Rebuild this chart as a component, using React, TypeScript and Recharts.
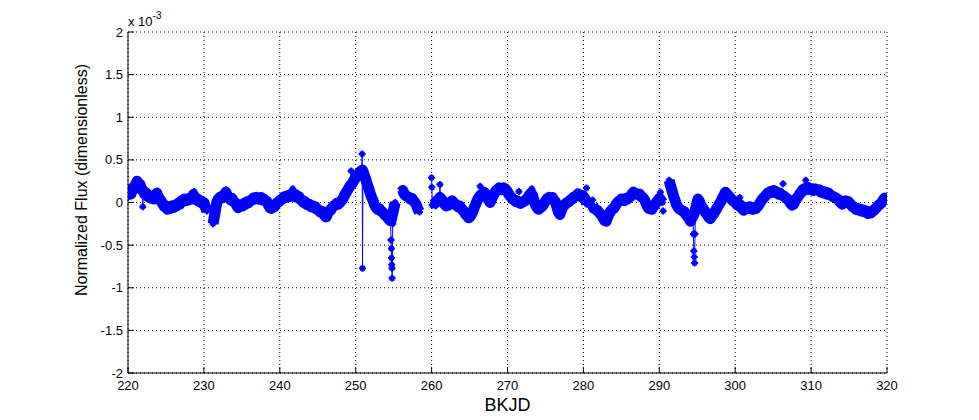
import React from "react";
import {
  CartesianGrid,
  ComposedChart,
  Label,
  Line,
  Scatter,
  XAxis,
  YAxis,
} from "recharts";

// flux values are in units of 1e-3 (the axis carries the "x 10^-3" note)
const xTicks = [220, 230, 240, 250, 260, 270, 280, 290, 300, 310, 320];
const yTicks = [-2, -1.5, -1, -0.5, 0, 0.5, 1, 1.5, 2];

// [BKJD, flux] pairs, one list per continuous stretch
const segment1: [number, number][] = [
  [220.0, 0.06], [220.2, 0.12], [220.4, 0.1], [220.6, 0.17], [220.8, 0.16], [221.0, 0.21],
  [221.2, 0.25], [221.4, 0.2], [221.6, 0.21], [221.8, 0.15], [222.0, 0.14], [222.2, 0.1],
  [222.4, 0.11], [222.6, 0.07], [222.8, 0.08], [223.0, 0.05], [223.2, 0.06], [223.4, 0.04],
  [223.6, 0.09], [223.8, 0.11], [224.0, 0.06], [224.2, 0.04], [224.4, 0.01], [224.6, -0.02],
  [224.8, -0.05], [225.0, -0.04], [225.2, -0.08], [225.4, -0.06], [225.6, -0.07], [225.8, -0.04],
  [226.0, -0.06], [226.2, -0.03], [226.4, -0.04], [226.6, -0.01], [226.8, -0.02], [227.0, 0.02],
  [227.2, 0.01], [227.4, 0.04], [227.6, 0.02], [227.8, 0.04], [228.0, 0.03], [228.2, 0.05],
  [228.4, 0.04], [228.6, 0.09], [228.8, 0.06], [229.0, 0.03], [229.2, 0.04], [229.4, 0.01],
  [229.6, 0.02], [229.8, -0.01], [230.0, 0.0], [230.2, -0.06], [230.4, -0.1],
];
const segment2: [number, number][] = [
  [231.2, -0.25], [231.35, -0.18], [231.5, -0.1], [231.7, 0.0], [231.9, 0.04], [232.1, 0.06],
  [232.3, 0.05], [232.5, 0.08], [232.7, 0.07], [232.9, 0.12], [233.1, 0.08], [233.3, 0.06],
  [233.5, 0.03], [233.7, 0.05], [233.9, 0.01], [234.1, 0.0], [234.3, -0.03], [234.5, -0.06],
  [234.7, -0.05], [234.9, -0.03], [235.1, -0.04], [235.3, -0.01], [235.5, -0.02], [235.7, 0.01],
  [235.9, 0.0], [236.1, 0.02], [236.3, 0.03], [236.5, 0.05], [236.7, 0.04], [236.9, 0.06],
  [237.1, 0.05], [237.3, 0.04], [237.5, 0.06], [237.7, 0.03], [237.9, 0.04], [238.1, 0.02],
  [238.3, 0.01], [238.5, -0.03], [238.7, -0.06], [238.9, -0.07], [239.1, -0.04], [239.3, -0.05],
  [239.5, -0.02], [239.7, 0.0], [239.9, 0.01], [240.1, 0.03], [240.3, 0.04], [240.5, 0.06],
  [240.7, 0.07], [240.9, 0.06], [241.1, 0.08], [241.3, 0.07], [241.5, 0.1], [241.7, 0.08],
  [241.9, 0.07], [242.1, 0.09], [242.3, 0.06], [242.5, 0.07], [242.7, 0.04], [242.9, 0.03],
  [243.1, 0.0], [243.3, 0.01], [243.5, -0.02], [243.7, -0.03], [243.9, -0.02], [244.1, -0.05],
  [244.3, -0.04], [244.5, -0.06], [244.7, -0.05], [244.9, -0.08], [245.1, -0.09], [245.3, -0.11],
  [245.5, -0.1], [245.7, -0.13], [245.9, -0.15], [246.1, -0.17], [246.3, -0.13], [246.5, -0.1],
  [246.7, -0.09], [246.9, -0.06], [247.1, -0.04], [247.3, -0.03], [247.5, -0.01], [247.7, -0.02],
  [247.9, 0.0], [248.1, 0.02], [248.3, 0.04], [248.5, 0.08], [248.7, 0.11], [248.9, 0.14],
  [249.1, 0.17], [249.3, 0.2], [249.5, 0.22], [249.7, 0.25], [249.9, 0.28], [250.1, 0.3],
  [250.3, 0.32], [250.5, 0.35], [250.7, 0.37], [250.9, 0.38], [251.1, 0.33], [251.3, 0.28],
  [251.5, 0.22], [251.7, 0.17], [251.9, 0.11], [252.1, 0.06], [252.3, 0.02], [252.5, -0.03],
  [252.7, -0.06], [252.9, -0.08], [253.1, -0.07], [253.3, -0.1], [253.5, -0.11], [253.7, -0.13],
  [253.9, -0.15], [254.1, -0.16], [254.3, -0.19], [254.5, -0.21], [254.7, -0.2], [254.9, -0.12],
  [255.1, -0.04], [255.2, 0.0],
];
const segment3: [number, number][] = [
  [256.0, 0.12], [256.2, 0.14], [256.4, 0.1], [256.6, 0.08], [256.8, 0.07], [257.0, 0.06],
  [257.2, 0.04], [257.4, 0.05], [257.6, 0.02], [257.8, 0.0], [258.0, -0.03], [258.2, -0.08],
  [258.4, -0.11],
];
const segment4: [number, number][] = [
  [260.1, -0.03], [260.3, -0.02], [260.5, 0.0], [260.7, 0.02], [260.9, 0.03], [261.1, 0.06],
  [261.3, 0.04], [261.5, 0.01], [261.7, -0.02], [261.9, -0.04], [262.1, -0.02], [262.3, -0.03],
  [262.5, 0.0], [262.7, 0.02], [262.9, 0.0], [263.1, -0.02], [263.3, -0.03], [263.5, -0.05],
  [263.7, -0.04], [263.9, -0.07], [264.1, -0.09], [264.3, -0.11], [264.5, -0.14], [264.7, -0.16],
  [264.9, -0.18], [265.1, -0.16], [265.3, -0.13], [265.5, -0.09], [265.7, -0.04], [265.9, 0.0],
  [266.1, 0.04], [266.3, 0.07], [266.5, 0.09], [266.7, 0.1], [266.9, 0.12], [267.1, 0.1],
  [267.3, 0.08], [267.5, 0.03], [267.7, 0.0], [267.9, 0.04], [268.1, 0.08], [268.3, 0.11],
  [268.5, 0.14], [268.7, 0.15], [268.9, 0.17], [269.1, 0.16], [269.3, 0.15], [269.5, 0.17],
  [269.7, 0.16], [269.9, 0.14], [270.1, 0.11], [270.3, 0.08], [270.5, 0.06], [270.7, 0.04],
  [270.9, 0.03], [271.1, 0.01], [271.3, 0.02], [271.5, 0.0], [271.7, -0.01], [271.9, 0.0],
  [272.1, 0.01], [272.3, 0.02], [272.5, 0.04], [272.7, 0.05], [272.9, 0.09], [273.1, 0.11],
  [273.3, 0.08], [273.5, 0.02], [273.7, -0.03], [273.9, -0.06], [274.1, -0.08], [274.3, -0.06],
  [274.5, -0.05], [274.7, -0.03], [274.9, 0.0], [275.1, 0.03], [275.3, 0.05], [275.5, 0.06],
  [275.7, 0.04], [275.9, 0.06], [276.1, 0.03], [276.3, 0.01], [276.5, -0.05], [276.7, -0.11],
  [276.9, -0.14], [277.1, -0.09], [277.3, -0.05], [277.5, -0.03], [277.7, -0.01], [277.9, 0.0],
  [278.1, 0.01], [278.3, 0.03], [278.5, 0.04], [278.7, 0.06], [278.9, 0.07], [279.1, 0.08],
  [279.3, 0.1], [279.5, 0.09], [279.7, 0.07], [279.9, 0.08], [280.1, 0.06], [280.3, 0.03],
  [280.45, -0.02],
];
const segment5: [number, number][] = [
  [281.2, -0.03], [281.4, -0.07], [281.6, -0.08], [281.8, -0.09], [282.0, -0.11], [282.2, -0.13],
  [282.4, -0.15], [282.6, -0.18], [282.8, -0.21], [283.0, -0.22], [283.2, -0.17], [283.4, -0.13],
  [283.6, -0.1], [283.8, -0.08], [284.0, -0.07], [284.2, -0.04], [284.4, -0.01], [284.6, 0.01],
  [284.8, 0.02], [285.0, 0.04], [285.2, 0.03], [285.4, 0.02], [285.6, 0.05], [285.8, 0.04],
  [286.0, 0.06], [286.2, 0.07], [286.4, 0.1], [286.6, 0.12], [286.8, 0.11], [287.0, 0.1],
  [287.2, 0.09], [287.4, 0.1], [287.6, 0.07], [287.8, 0.06], [288.0, 0.04], [288.2, 0.0],
  [288.4, -0.04], [288.6, -0.07], [288.8, -0.06], [289.0, -0.08], [289.2, -0.05], [289.4, -0.03],
  [289.6, 0.0], [289.8, 0.02], [290.0, 0.05], [290.2, 0.03], [290.4, 0.0],
];
const segment6: [number, number][] = [
  [291.3, 0.26], [291.5, 0.19], [291.7, 0.13], [291.9, 0.07], [292.1, 0.02], [292.3, -0.03],
  [292.5, -0.06], [292.7, -0.08], [292.9, -0.09], [293.1, -0.1], [293.3, -0.11], [293.5, -0.14],
  [293.7, -0.16], [293.9, -0.19], [294.1, -0.22], [294.3, -0.18], [294.5, -0.15], [294.7, -0.1],
  [294.9, -0.03], [295.1, 0.04], [295.3, 0.01], [295.5, -0.04], [295.7, -0.06], [295.9, -0.09],
  [296.1, -0.12], [296.3, -0.14], [296.5, -0.17], [296.7, -0.19], [296.9, -0.16], [297.1, -0.14],
  [297.3, -0.11], [297.5, -0.08], [297.7, -0.05], [297.9, -0.02], [298.1, 0.01], [298.3, 0.05],
  [298.5, 0.08], [298.7, 0.12], [298.9, 0.1], [299.1, 0.08], [299.3, 0.06], [299.5, 0.04],
  [299.7, 0.02], [299.9, 0.01], [300.1, -0.01], [300.3, -0.03], [300.5, -0.04], [300.7, -0.03],
  [300.9, -0.07], [301.1, -0.09], [301.3, -0.08], [301.5, -0.06], [301.7, -0.07], [301.9, -0.05],
  [302.1, -0.07], [302.3, -0.08], [302.5, -0.06], [302.7, -0.07], [302.9, -0.05], [303.1, -0.03],
  [303.3, 0.0], [303.5, 0.03], [303.7, 0.05], [303.9, 0.07], [304.1, 0.09], [304.3, 0.11],
  [304.5, 0.12], [304.7, 0.13], [304.9, 0.12], [305.1, 0.14], [305.3, 0.13], [305.5, 0.12],
  [305.7, 0.1], [305.9, 0.11], [306.1, 0.09], [306.3, 0.08], [306.5, 0.07], [306.7, 0.05],
  [306.9, 0.04], [307.1, 0.02], [307.3, -0.01], [307.5, -0.03], [307.7, -0.02], [307.9, 0.02],
  [308.1, 0.05], [308.3, 0.07], [308.5, 0.1], [308.7, 0.12], [308.9, 0.15], [309.1, 0.16],
  [309.3, 0.15], [309.5, 0.18], [309.7, 0.17], [309.9, 0.15], [310.1, 0.16], [310.3, 0.14],
  [310.5, 0.16], [310.7, 0.15], [310.9, 0.14], [311.1, 0.15], [311.3, 0.12], [311.5, 0.13],
  [311.7, 0.11], [311.9, 0.12], [312.1, 0.1], [312.3, 0.11], [312.5, 0.09], [312.7, 0.08],
  [312.9, 0.07], [313.1, 0.06], [313.3, 0.05], [313.5, 0.04], [313.7, 0.02], [313.9, 0.0],
  [314.1, -0.02], [314.3, 0.01], [314.5, 0.02], [314.7, 0.0], [314.9, 0.01], [315.1, -0.01],
  [315.3, -0.03], [315.5, -0.05], [315.7, -0.06], [315.9, -0.08], [316.1, -0.07], [316.3, -0.09],
  [316.5, -0.08], [316.7, -0.1], [316.9, -0.09], [317.1, -0.11], [317.3, -0.1], [317.5, -0.13],
  [317.7, -0.11], [317.9, -0.12], [318.1, -0.1], [318.3, -0.09], [318.5, -0.07], [318.7, -0.05],
  [318.9, -0.03], [319.1, -0.02], [319.3, 0.0], [319.5, 0.03], [319.7, 0.05], [319.9, 0.04],
  [320.0, 0.06],
];
const gapDays = [230.8, 255.6, 259.2, 280.8, 290.8];

// thin-line excursions (each group joined by a line, groups split by null)
const spikeGroups: [number, number][][] = [
  [[221.9, 0.14], [221.95, -0.05], [222.0, 0.12]],
  [[249.35, 0.22], [249.4, 0.37], [249.45, 0.22]],
  [[250.8, 0.38], [250.85, 0.57], [250.9, -0.77], [250.95, 0.35]],
  [[254.6, -0.22], [254.65, -0.44], [254.7, -0.54], [254.72, -0.65], [254.75, -0.73], [254.78, -0.77], [254.8, -0.89], [254.88, -0.25]],
  [[260.0, 0.29], [260.03, 0.18], [260.1, -0.03]],
  [[261.05, 0.04], [261.1, 0.21], [261.15, 0.05]],
  [[294.45, -0.2], [294.5, -0.37], [294.55, -0.57], [294.6, -0.64], [294.65, -0.71], [294.7, -0.37], [294.75, -0.15]],
];

// lone points sitting just off the band
const outlierDays = [228.7, 232.9, 241.7, 266.4, 271.5, 273.2, 280.4, 281.2, 290.15, 290.5, 300.6, 306.3, 309.3];
const outlierFlux = [0.13, 0.15, 0.16, 0.19, 0.13, 0.16, 0.17, 0.03, 0.12, -0.1, 0.06, 0.22, 0.26];

const BLUE = "#0000ff";
const FONT = "'Liberation Sans', Arial, Helvetica, sans-serif";

const bandData = [segment1, segment2, segment3, segment4, segment5, segment6].flatMap((seg, i) => {
  const pts = seg.map(([day, flux]) => ({day, flux}));
  return i < gapDays.length ? [...pts, {day: gapDays[i], flux: null}] : pts;
});

const spikeData = spikeGroups.flatMap((grp, i) => {
  const pts = grp.map(([day, flux]) => ({day, flux}));
  return i < spikeGroups.length - 1 ? [...pts, {day: (grp[grp.length - 1][0] + spikeGroups[i + 1][0][0]) / 2, flux: null}] : pts;
});

const outlierData = outlierDays.map((day, i) => ({day, flux: outlierFlux[i]}));

const PlusDot = (props: any) => {
  const {cx, cy} = props;
  if (cx == null || cy == null || props.value == null) return null;
  return (
    <path
      d={`M${cx - 3.5},${cy}H${cx + 3.5}M${cx},${cy - 3.5}V${cy + 3.5}M${cx - 1.5},${cy - 1.5}H${cx + 1.5}V${cy + 1.5}H${cx - 1.5}Z`}
      stroke={BLUE}
      strokeWidth={2}
      fill={BLUE}
    />
  );
};

const App = () => {
  return (
    <div style={{position: "absolute", left: 0, top: 0}}>
      <ComposedChart
        width={979}
        height={420}
        margin={{top: 32, right: 92, bottom: 0, left: 0}}
        style={{fontFamily: FONT}}
      >
        <CartesianGrid stroke="#000" strokeDasharray="1 3" strokeWidth={1} />
        <XAxis
          dataKey="day"
          type="number"
          domain={[220, 320]}
          ticks={xTicks}
          allowDataOverflow
          height={47}
          axisLine={{stroke: "#000"}}
          tickLine={{stroke: "#000"}}
          tickSize={-6}
          tickMargin={14}
          tick={{fill: "#000", fontSize: 13, fontFamily: FONT}}
        >
          <Label
            content={({viewBox}: any) => (
              <text
                x={viewBox.x + viewBox.width / 2}
                y={viewBox.y + 38}
                textAnchor="middle"
                fontSize={18}
                fontFamily={FONT}
                fill="#000"
              >
                BKJD
              </text>
            )}
          />
        </XAxis>
        <XAxis
          xAxisId="top"
          orientation="top"
          dataKey="day"
          type="number"
          domain={[220, 320]}
          ticks={xTicks}
          height={0}
          axisLine={{stroke: "#000"}}
          tickLine={{stroke: "#000"}}
          tickSize={-6}
          tick={false}
        />
        <YAxis
          type="number"
          domain={[-2, 2]}
          ticks={yTicks}
          allowDataOverflow
          width={128}
          axisLine={{stroke: "#000"}}
          tickLine={{stroke: "#000"}}
          tickSize={-6}
          tickMargin={11}
          tick={{fill: "#000", fontSize: 13, fontFamily: FONT}}
        >
          <Label
            content={({viewBox}: any) => (
              <text
                transform={`translate(${viewBox.x + 87}, ${viewBox.y + 148}) rotate(-90)`}
                textAnchor="middle"
                fontSize={16}
                fontFamily={FONT}
                fill="#000"
              >
                Normalized Flux (dimensionless)
              </text>
            )}
          />
          <Label
            content={({viewBox}: any) => (
              <text x={viewBox.x + viewBox.width} y={viewBox.y - 6} fontSize={13} fontFamily={FONT} fill="#000">
                <tspan>x 10</tspan>
                <tspan dy={-7} fontSize={10}>-3</tspan>
              </text>
            )}
          />
        </YAxis>
        <YAxis
          yAxisId="right"
          orientation="right"
          type="number"
          domain={[-2, 2]}
          ticks={yTicks}
          width={0}
          axisLine={{stroke: "#000"}}
          tickLine={{stroke: "#000"}}
          tickSize={-6}
          tick={false}
        />
        <Line
          data={bandData}
          dataKey="flux"
          stroke={BLUE}
          strokeWidth={11}
          strokeLinejoin="round"
          dot={<PlusDot />}
          activeDot={false}
          connectNulls={false}
          isAnimationActive={false}
        />
        <Line
          data={spikeData}
          dataKey="flux"
          stroke={BLUE}
          strokeWidth={1}
          dot={<PlusDot />}
          activeDot={false}
          connectNulls={false}
          isAnimationActive={false}
        />
        <Scatter
          data={outlierData}
          dataKey="flux"
          shape={(p: any) => <PlusDot cx={p.cx} cy={p.cy} value={1} />}
          isAnimationActive={false}
        />
      </ComposedChart>
    </div>
  );
};

export default App;
